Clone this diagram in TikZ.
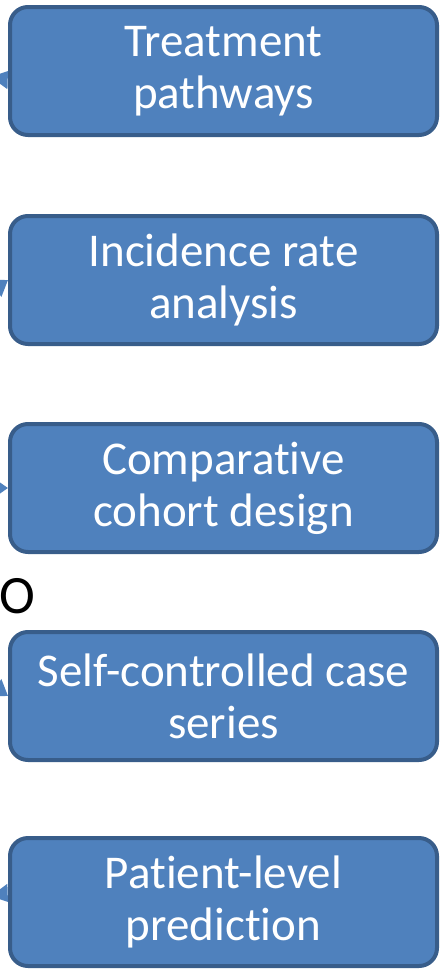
\documentclass[tikz,border=0pt]{standalone}
\usepackage{fontspec}
\setmainfont{Carlito}[Ligatures=NoCommon]
\usepackage{xcolor}
\usepackage{tikz}
\usetikzlibrary{arrows.meta}
\definecolor{boxblue}{HTML}{4F81BD}
\definecolor{boxedge}{HTML}{385D8A}

\begin{document}
\begin{tikzpicture}[x=1pt, y=-1pt,
  method/.style={draw=boxedge, line width=4pt, fill=boxblue, rounded corners=18pt,
    minimum width=427pt, minimum height=128pt, text width=420pt, align=center,
    text=white, inner sep=0pt, font=\fontsize{47}{52}\selectfont,
    execute at begin node={\spaceskip=10.6pt\relax}},
  link/.style={boxblue, line width=3pt, -{Triangle[width=20pt,length=15pt]}}]
  \useasboundingbox (0,0) rectangle (442,969);
  \clip (0,0) rectangle (442,969);
  % the five analysis boxes
  \node[method] (pathways) at (223.5,71) {Treatment\\pathways};
  \node[method] (incidence) at (223.5,280) {Incidence rate\\analysis};
  \node[method] (cohort) at (223.5,488) {Comparative\\cohort design};
  \node[method] (sccs) at (223.5,696) {Self-controlled case\\series};
  \node[method] (plp) at (223.5,902) {Patient-level\\prediction};
  % stray text and links from the left
  \node[font=\fontsize{54}{60}\selectfont, anchor=base west, inner sep=0pt] (cut) at (-1,613) {O};
  \coordinate (src) at (-300,488);
  \foreach \m in {pathways,incidence,cohort,sccs,plp}
    \draw[link] (src) -- (\m.west);
\end{tikzpicture}
\end{document}
